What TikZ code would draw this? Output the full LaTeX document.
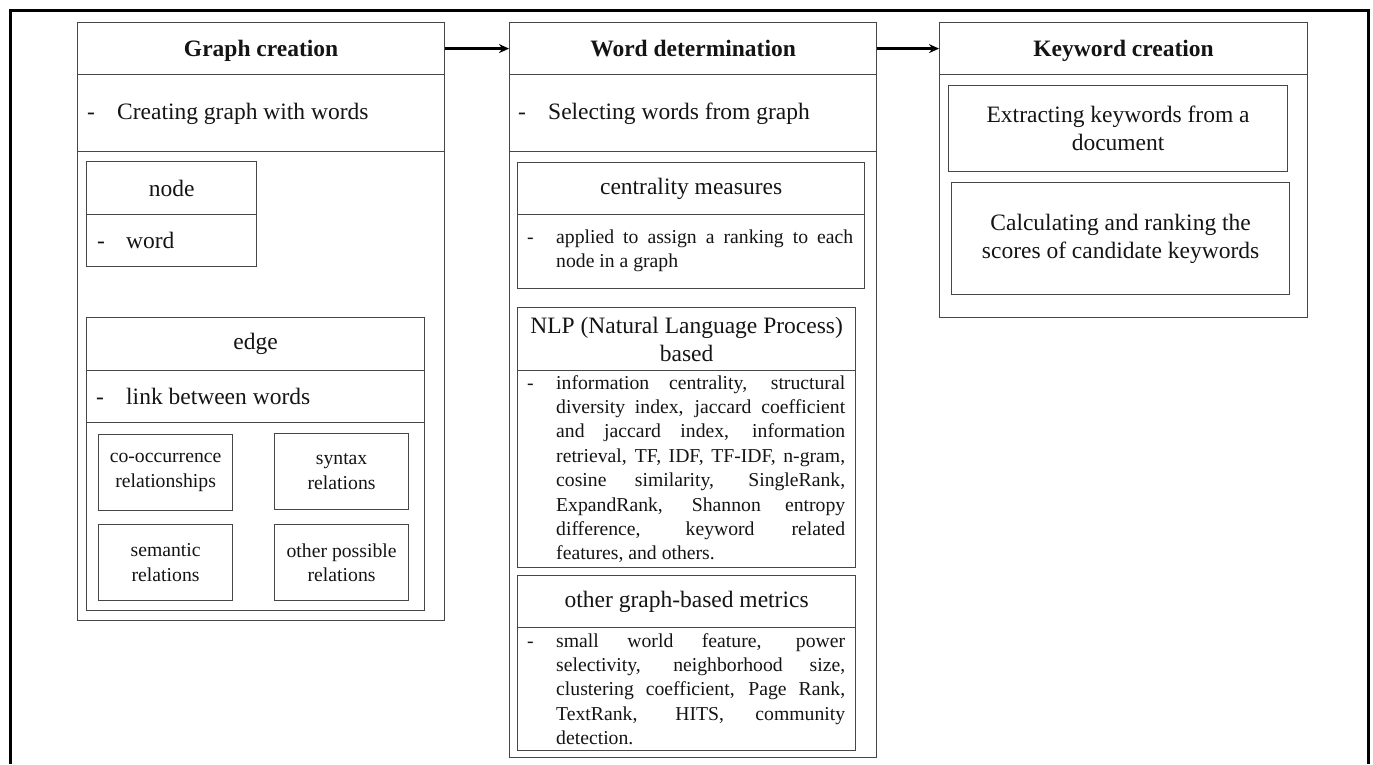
\documentclass[tikz,border=0pt]{standalone}
\usepackage{fontspec}
\setmainfont{Liberation Serif}
\usetikzlibrary{arrows.meta}
\definecolor{lc}{RGB}{70,70,70}
\definecolor{tc}{RGB}{20,20,20}
\newcommand{\fmain}{\fontsize{23.5}{28}\selectfont}
\newcommand{\fsml}{\fontsize{19.7}{24.4}\selectfont}
\newcommand{\jline}[2]{\makebox[#1][s]{#2}}
\begin{document}
\begin{tikzpicture}[x=1pt,y=-1pt,
 box/.style={draw=lc, line width=1.2pt, inner sep=0pt, anchor=north west, align=center, font=\fmain, text=tc},
 hbox/.style={box, font=\fmain\bfseries, text height=19pt, text depth=3pt},
 sbox/.style={box, font=\fsml},
 lbl/.style={inner sep=0pt, anchor=west, align=left, font=\fmain, text=tc},
 slbl/.style={lbl, font=\fsml},
 arr/.style={line width=2.4pt, -{Stealth[length=10pt,width=9pt]}}]
\useasboundingbox (0,0) rectangle (1373,764);
\draw[line width=3pt] (10,764) -- (10,10) -- (1368,10) -- (1368,764);

% ---------- Graph creation ----------
\node[box, minimum width=367pt, minimum height=598pt] (gc) at (77,22) {};
\node[hbox, minimum width=367pt, minimum height=52pt] (gch) at (77,22) {Graph creation};
\node[box, minimum width=367pt, minimum height=77pt] (gcb) at (77,74) {};
\node[lbl] (gct) at (87,114) {\makebox[30pt][l]{-}Creating graph with words};

\node[box, minimum width=170pt, minimum height=53pt] (ndh) at (86,161) {node};
\node[box, minimum width=170pt, minimum height=52pt] (ndb) at (86,214) {};
\node[lbl] (ndt) at (97,240) {\makebox[29pt][l]{-}word};

\node[box, minimum width=338pt, minimum height=293pt] (ed) at (86,317) {};
\node[box, minimum width=338pt, minimum height=53pt] (edh) at (86,317) {edge};
\node[box, minimum width=338pt, minimum height=52pt] (edb) at (86,370) {};
\node[lbl] (edt) at (96,396) {\makebox[30pt][l]{-}link between words};

\node[sbox, minimum width=134pt, minimum height=76pt] (co) at (98,434) {co-occurrence\\relationships};
\node[sbox, minimum width=134pt, minimum height=76pt] (syn) at (274,433) {syntax\\relations};
\node[sbox, minimum width=134pt, minimum height=76pt] (sem) at (98,524) {semantic\\relations};
\node[sbox, minimum width=134pt, minimum height=76pt] (oth) at (274,524) {other possible\\relations};

% ---------- Word determination ----------
\node[box, minimum width=367pt, minimum height=735pt] (wd) at (509,22) {};
\node[hbox, minimum width=367pt, minimum height=52pt] (wdh) at (509,22) {Word determination};
\node[box, minimum width=367pt, minimum height=77pt] (wdb) at (509,74) {};
\node[lbl] (wdt) at (518,114) {\makebox[30pt][l]{-}Selecting words from graph};

\node[box, minimum width=347pt, minimum height=52pt] (cmh) at (517,162) {centrality measures};
\node[box, minimum width=347pt, minimum height=74pt] (cmb) at (517,214) {};
\node[slbl] (cmt) at (527,251) {\makebox[29pt][l]{-}\jline{297pt}{applied to assign a ranking to each}\\\hspace*{29pt}node in a graph};

\node[box, minimum width=338pt, minimum height=63pt] (nlph) at (517,307) {NLP (Natural Language Process)\\based};
\node[box, minimum width=338pt, minimum height=197pt] (nlpb) at (517,370) {};
\node[slbl] (nlpt) at (527,469) {\makebox[29pt][l]{-}\jline{289pt}{information centrality, structural}\\
\hspace*{29pt}\jline{289pt}{diversity index, jaccard coefficient}\\
\hspace*{29pt}\jline{289pt}{and jaccard index, information}\\
\hspace*{29pt}\jline{289pt}{retrieval, TF, IDF, TF-IDF, n-gram,}\\
\hspace*{29pt}\jline{289pt}{cosine similarity, SingleRank,}\\
\hspace*{29pt}\jline{289pt}{ExpandRank, Shannon entropy}\\
\hspace*{29pt}\jline{289pt}{difference, keyword related}\\
\hspace*{29pt}features, and others.};

\node[box, minimum width=338pt, minimum height=52pt] (ogh) at (517,575) {other graph-based metrics};
\node[box, minimum width=338pt, minimum height=123pt] (ogb) at (517,627) {};
\node[slbl] (ogt) at (527,689) {\makebox[29pt][l]{-}\jline{289pt}{small world feature, power}\\
\hspace*{29pt}\jline{289pt}{selectivity, neighborhood size,}\\
\hspace*{29pt}\jline{289pt}{clustering coefficient, Page Rank,}\\
\hspace*{29pt}\jline{289pt}{TextRank, HITS, community}\\
\hspace*{29pt}detection.};

% ---------- Keyword creation ----------
\node[box, minimum width=368pt, minimum height=295pt] (kc) at (939,22) {};
\node[hbox, minimum width=368pt, minimum height=52pt] (kch) at (939,22) {Keyword creation};
\node[box, minimum width=339pt, minimum height=86pt] (ext) at (948,85) {Extracting keywords from a\\document};
\node[box, minimum width=338pt, minimum height=112pt] (calc) at (951,182) {Calculating and ranking the\\scores of candidate keywords};

% ---------- arrows ----------
\draw[arr] (gch.east) -- (wdh.west);
\draw[arr] (wdh.east) -- (kch.west);
\end{tikzpicture}
\end{document}
